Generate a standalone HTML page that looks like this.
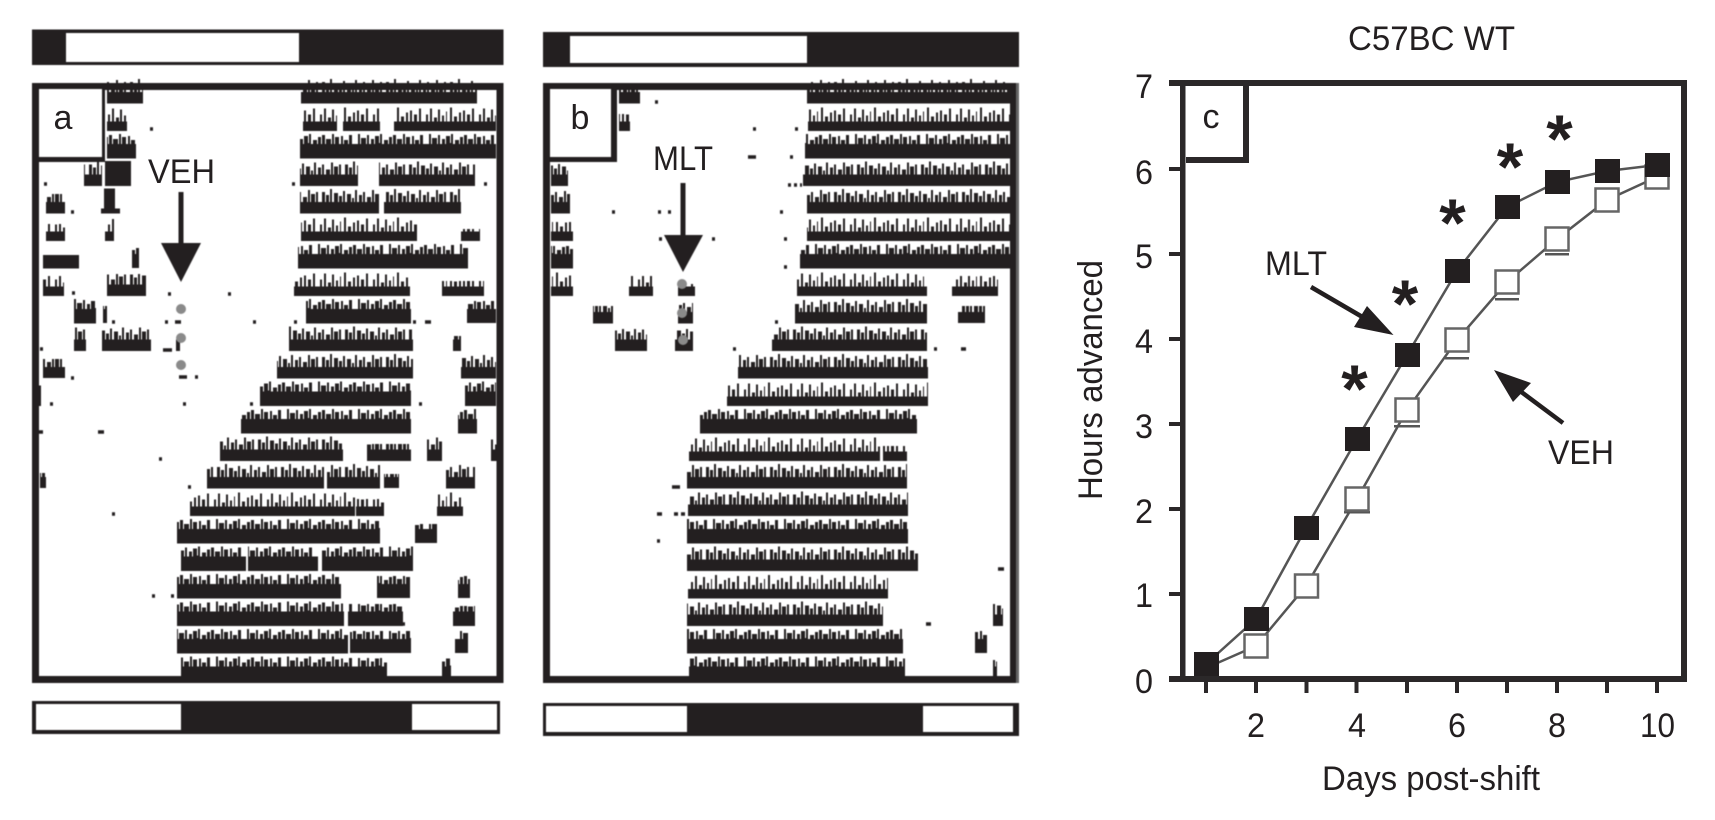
<!DOCTYPE html>
<html><head><meta charset="utf-8"><style>
html,body{margin:0;padding:0;background:#fff;width:1715px;height:820px;overflow:hidden}
svg{display:block}
text{font-family:"Liberation Sans",sans-serif;font-size:34px;fill:#231f20}
.m{text-anchor:middle}
.s{font-size:68px;font-weight:bold;text-anchor:middle}
</style></head><body>
<svg width="1715" height="820" viewBox="0 0 1715 820" xmlns="http://www.w3.org/2000/svg">
<defs>
<pattern id="p1" patternUnits="userSpaceOnUse" x="0" y="76" width="64" height="27.5"><rect y="16" width="64" height="11.5" fill="#231f20"/><path fill="#231f20" d="M0 27.500V22H2V6H5V20H6V9H9V22H10V3H12V18H14V7H18V22H19V10H22V19H23V5H25V21H27V8H31V17H32V12H34V22H35V4H37V19H39V9H42V21H43V6H45V16H47V11H51V20H52V4H54V22H55V8H59V18H60V6H62V21H64V27.500z"/></pattern>
<pattern id="p2" patternUnits="userSpaceOnUse" x="0" y="76" width="71" height="27.5"><rect y="13" width="71" height="14.5" fill="#231f20"/><path fill="#231f20" d="M0 27.500V14H3V3H5V16H6V7H11V19H12V4H14V15H16V8H19V20H20V5H24V12H25V3H27V17H29V9H33V21H34V6H37V13H38V4H41V18H42V8H47V15H48V3H50V19H51V6H55V14H57V5H59V20H60V9H64V16H65V4H68V13H71V27.500z"/></pattern>
<pattern id="p3" patternUnits="userSpaceOnUse" x="0" y="76" width="53" height="27.5"><rect y="18" width="53" height="9.5" fill="#231f20"/><path fill="#231f20" d="M0 27.500V23H2V11H4V21H6V5H8V23H10V14H13V20H14V6H16V22H18V12H20V23H22V8H23V19H26V4H28V23H30V13H33V21H35V9H37V23H39V7H41V20H43V11H46V23H48V5H50V21H53V27.500z"/></pattern>
<pattern id="p4" patternUnits="userSpaceOnUse" x="23" y="76" width="64" height="27.5"><rect y="16" width="64" height="11.5" fill="#231f20"/><path fill="#231f20" d="M0 27.500V22H2V6H5V20H6V9H9V22H10V3H12V18H14V7H18V22H19V10H22V19H23V5H25V21H27V8H31V17H32V12H34V22H35V4H37V19H39V9H42V21H43V6H45V16H47V11H51V20H52V4H54V22H55V8H59V18H60V6H62V21H64V27.500z"/></pattern>
<pattern id="p5" patternUnits="userSpaceOnUse" x="31" y="76" width="71" height="27.5"><rect y="13" width="71" height="14.5" fill="#231f20"/><path fill="#231f20" d="M0 27.500V14H3V3H5V16H6V7H11V19H12V4H14V15H16V8H19V20H20V5H24V12H25V3H27V17H29V9H33V21H34V6H37V13H38V4H41V18H42V8H47V15H48V3H50V19H51V6H55V14H57V5H59V20H60V9H64V16H65V4H68V13H71V27.500z"/></pattern>
</defs>

<!-- PANEL A -->
<g style="filter:blur(.5px)">
<rect x="32" y="29.500" width="471.500" height="35.500" fill="#231f20"/>
<rect x="66" y="33" width="233" height="29" fill="#fff"/>
<path fill="url(#p1)" d="M107 78.500h36v25h-36zM301 78.500h176v25h-176z"/>
<path fill="url(#p3)" d="M107 106h20v25h-20zM303 106h34v25h-34zM343 106h37v25h-37zM394 106h102v25h-102z"/>
<path fill="url(#p2)" d="M107 133.500h29v25h-29zM300 133.500h196v25h-196z"/>
<path fill="url(#p4)" d="M84 161h18v25h-18zM300 161h58v25h-58zM379 161h96v25h-96z"/>
<path fill="#231f20" d="M105 161h26v25h-26zM104 188.500h11v20h5v5h-19v-5h3z"/>
<path fill="url(#p1)" d="M46 194h19v19.500h-19zM300 188.500h79v25h-79zM384 188.500h77v25h-77z"/>
<path fill="url(#p3)" d="M46 224h19v17h-19zM105 219h9v22h-9zM301 216h116v25h-116zM461 229h19v12h-19z"/>
<path fill="url(#p5)" d="M43 255h36v13.500h-36zM132 248h7v20h-7zM298 243.500h170v25h-170z"/>
<path fill="url(#p3)" d="M43 276h21v20h-21zM294 271h116v25h-116zM442 281h42v15h-42z"/>
<path fill="url(#p1)" d="M107 274h39v22h-39z"/>
<path fill="url(#p2)" d="M74 298.500h22v25h-22zM103 306h4v17h-4zM306 298.500h105v25h-105zM467 301h29v22h-29z"/>
<path fill="url(#p4)" d="M74 326h12v25h-12zM102 326h49v25h-49zM289 326h124v25h-124zM453 336h8v15h-8zM176 338h4v13h-4z"/>
<path fill="url(#p1)" d="M43 359h22v19h-22zM277 353.500h136v25h-136zM461 353.500h35v25h-35z"/>
<path fill="url(#p5)" d="M34 381h7v25h-7zM260 381h151v25h-151zM465 381h31v25h-31z"/>
<path fill="url(#p2)" d="M241 408.500h170v25h-170zM458 408.500h19v25h-19z"/>
<path fill="url(#p1)" d="M220 436h123v25h-123zM367 444h44v17h-44zM427 436h15v25h-15zM491 436h12v25h-12z"/>
<path fill="url(#p4)" d="M207 463.500h117v25h-117zM327 463.500h53v25h-53zM384 474h15v14h-15zM446 463.500h29v25h-29zM40 473h6v15h-6z"/>
<path fill="url(#p3)" d="M190 491h165v25h-165zM356 499h28v17h-28zM437 491h26v25h-26z"/>
<path fill="url(#p2)" d="M177 518.500h203v25h-203zM415 524h22v19h-22z"/>
<path fill="url(#p5)" d="M181 546h65v25h-65zM248 546h70v25h-70zM322 546h91v25h-91z"/>
<path fill="url(#p2)" d="M177 573.500h164v25h-164zM377 576h33v22h-33zM458 576h12v22h-12z"/>
<path fill="url(#p2)" d="M177 601h167v25h-167zM348 604h55v22h-55zM453 606h22v20h-22z"/>
<path fill="url(#p5)" d="M177 628.500h171v25h-171zM350 631h61v22h-61zM455 631h13v22h-13z"/>
<path fill="url(#p2)" d="M181 656h158v25h-158zM339 658h48v23h-48zM442 658h9v23h-9z"/>
<path stroke="#231f20" stroke-width="3.500" d="M150 129h3M44 184h3M292 184h3M484 184h3M71 212h3M168 294h3M228 294h3M72 293h3M59 293h3M165 322h3M175 322h6M253 322h3M294 322h3M413 322h3M425 322h6M112 322h3M163 350h9M40 349h3M71 378h3M179 377h8M195 377h3M50 404h3M183 404h3M250 404h3M419 404h3M98 432h6M39 432h4M159 459h3M188 487h3M112 514h3M152 596h3M171 596h3M402 624h3M472 624h3"/>
<circle cx="181" cy="309" r="5" fill="#8a8a8a"/><circle cx="181" cy="338" r="5" fill="#8a8a8a"/><circle cx="181" cy="365" r="5" fill="#8a8a8a"/>
<rect x="35.500" y="86.500" width="464.500" height="593" fill="none" stroke="#231f20" stroke-width="7"/>
<rect x="39" y="89" width="66" height="73" fill="#fff"/>
<path fill="#231f20" d="M102 89h3v73h-3zM39 157h66v5h-66z"/>
<rect x="32" y="701" width="468" height="33" fill="#231f20"/>
<rect x="36" y="704" width="145" height="26" fill="#fff"/><rect x="412" y="704" width="85" height="26" fill="#fff"/>
<rect x="178.500" y="192" width="5" height="52" fill="#231f20"/>
<path d="M161 243H201L181 282z" fill="#231f20"/>
</g>
<text x="63" y="129" class="m">a</text>
<text x="148" y="183" textLength="67" lengthAdjust="spacingAndGlyphs">VEH</text>

<!-- PANEL B -->
<g style="filter:blur(.5px)">
<rect x="543" y="32" width="476" height="35" fill="#231f20"/>
<rect x="570" y="36" width="237" height="27" fill="#fff"/>
<path fill="url(#p1)" d="M619 88h21v15.500h-21zM807 78.500h203v25h-203z"/>
<path fill="url(#p3)" d="M619 114h11v17h-11zM808 106h202v25h-202z"/>
<path fill="url(#p2)" d="M805 133.500h205v25h-205z"/>
<path fill="url(#p4)" d="M551 164h17v22h-17zM803 161h207v25h-207z"/>
<path fill="url(#p1)" d="M551 191h19v22.500h-19zM807 188.500h203v25h-203z"/>
<path fill="url(#p3)" d="M551 222h22v19h-22zM807 216h203v25h-203z"/>
<path fill="url(#p5)" d="M551 246h22v22.500h-22zM800 243.500h210v25h-210z"/>
<path fill="url(#p3)" d="M551 271h22v25h-22zM629 276h24v20h-24zM678 284h17v12h-17zM797 271h130v25h-130zM952 276h46v20h-46z"/>
<path fill="url(#p1)" d="M593 306h20v17.500h-20zM678 303h15v20.500h-15zM795 298.500h132v25h-132zM958 306h27v17h-27z"/>
<path fill="url(#p4)" d="M615 329h32v22h-32zM675 329h18v22h-18zM772 326h155v25h-155z"/>
<path fill="url(#p1)" d="M738 353.500h190v25h-190z"/>
<path fill="url(#p3)" d="M727 381h201v25h-201z"/>
<path fill="url(#p5)" d="M700 408.500h217v25h-217z"/>
<path fill="url(#p3)" d="M689 436h191v25h-191zM883 446h24v15h-24z"/>
<path fill="url(#p1)" d="M687 463.500h220v25h-220z"/>
<path fill="url(#p4)" d="M688 491h220v25h-220z"/>
<path fill="url(#p2)" d="M687 518.500h221v25h-221z"/>
<path fill="url(#p1)" d="M687 546h231v25h-231z"/>
<path fill="url(#p3)" d="M688 573.500h200v25h-200z"/>
<path fill="url(#p4)" d="M687 601h196v25h-196zM993 604h10v22h-10z"/>
<path fill="url(#p2)" d="M687 628.500h216v25h-216zM975 631h12v22h-12z"/>
<path fill="url(#p5)" d="M689 656h216v25h-216zM993 660h4v21h-4z"/>
<path stroke="#231f20" stroke-width="3.500" d="M655 102h3M753 129h3M795 129h3M748 157h8M790 157h3M788 185h3M794 185h3M800 185h2M612 212h3M658 212h3M668 212h3M780 212h3M659 239h3M712 239h3M784 239h3M784 267h3M775 322h3M733 349h3M934 349h3M961 349h5M702 481h3M672 487h8M657 514h5M674 514h4M681 514h4M657 541h3M998 569h6M926 624h5"/>
<circle cx="682" cy="284" r="5" fill="#8a8a8a"/><circle cx="682" cy="313" r="5" fill="#8a8a8a"/><circle cx="683" cy="340" r="5" fill="#8a8a8a"/>
<rect x="546.500" y="86.500" width="467" height="593" fill="none" stroke="#231f20" stroke-width="7"/>
<rect x="1010" y="83" width="6" height="600" fill="#231f20"/><rect x="1016" y="83" width="3" height="600" fill="#666"/>
<rect x="550" y="89" width="67" height="73" fill="#fff"/>
<path fill="#231f20" d="M611 89h6v73h-6zM550 157h67v5h-67z"/>
<rect x="543" y="703" width="476" height="33" fill="#231f20"/>
<rect x="546" y="706" width="141" height="26" fill="#fff"/><rect x="923" y="706" width="90" height="26" fill="#fff"/>
<rect x="680.500" y="183" width="5" height="53" fill="#231f20"/>
<path d="M664 235H703L683 272z" fill="#231f20"/>
</g>
<text x="580" y="129" class="m">b</text>
<text x="653" y="170" textLength="60" lengthAdjust="spacingAndGlyphs">MLT</text>

<!-- PANEL C -->
<text x="1348" y="50" textLength="167" lengthAdjust="spacingAndGlyphs">C57BC WT</text>
<g fill="#2b2829">
<rect x="1169" y="80" width="518" height="6"/>
<rect x="1180" y="80" width="5.500" height="602"/>
<rect x="1681" y="80" width="6" height="602"/>
<rect x="1169" y="676" width="518" height="6"/>
<rect x="1169" y="167" width="11" height="4"/><rect x="1169" y="252" width="11" height="4"/><rect x="1169" y="337" width="11" height="4"/><rect x="1169" y="422" width="11" height="4"/><rect x="1169" y="507" width="11" height="4"/><rect x="1169" y="592" width="11" height="4"/>
<rect x="1204" y="682" width="4" height="11"/><rect x="1254" y="682" width="4" height="11"/><rect x="1304.500" y="682" width="4" height="11"/><rect x="1354.500" y="682" width="4" height="11"/><rect x="1405" y="682" width="4" height="11"/><rect x="1455" y="682" width="4" height="11"/><rect x="1505" y="682" width="4" height="11"/><rect x="1555" y="682" width="4" height="11"/><rect x="1605" y="682" width="4" height="11"/><rect x="1655" y="682" width="4" height="11"/>
<rect x="1186" y="157" width="63" height="6"/><rect x="1243" y="86" width="6" height="77"/>
</g>
<text x="1211" y="128" class="m">c</text>
<text x="1135" y="98" textLength="18" lengthAdjust="spacingAndGlyphs">7</text><text x="1135" y="184" textLength="18" lengthAdjust="spacingAndGlyphs">6</text><text x="1135" y="268" textLength="18" lengthAdjust="spacingAndGlyphs">5</text><text x="1135" y="353" textLength="18" lengthAdjust="spacingAndGlyphs">4</text><text x="1135" y="438" textLength="18" lengthAdjust="spacingAndGlyphs">3</text><text x="1135" y="523" textLength="18" lengthAdjust="spacingAndGlyphs">2</text><text x="1135" y="607" textLength="18" lengthAdjust="spacingAndGlyphs">1</text><text x="1135" y="693" textLength="18" lengthAdjust="spacingAndGlyphs">0</text>
<text x="1247" y="737" textLength="18" lengthAdjust="spacingAndGlyphs">2</text><text x="1348" y="737" textLength="18" lengthAdjust="spacingAndGlyphs">4</text><text x="1448" y="737" textLength="18" lengthAdjust="spacingAndGlyphs">6</text><text x="1548" y="737" textLength="18" lengthAdjust="spacingAndGlyphs">8</text><text x="1640" y="737" textLength="35" lengthAdjust="spacingAndGlyphs">10</text>
<text x="1322" y="790" textLength="218" lengthAdjust="spacingAndGlyphs">Days post-shift</text>
<text transform="translate(1102,500) rotate(-90)" textLength="240" lengthAdjust="spacingAndGlyphs">Hours advanced</text>
<text x="1265" y="275" textLength="62" lengthAdjust="spacingAndGlyphs">MLT</text>
<text x="1548" y="464" textLength="66" lengthAdjust="spacingAndGlyphs">VEH</text>

<polyline fill="none" stroke="#555" stroke-width="2.500" points="1206,668 1256,646 1306,586 1357,499 1407,410 1457,340 1507,282 1557,239 1607,200 1657,177"/>
<path fill="#555" d="M1344 511h26v2.500h-26zM1394 425h26v2.500h-26zM1445 357h24v2.500h-24zM1495 298h24v2.500h-24zM1545 253h24v2.500h-24z"/>
<g fill="#fff" stroke="#666" stroke-width="2.500">
<rect x="1244.500" y="634.500" width="23" height="23"/><rect x="1295" y="574.500" width="23" height="23"/><rect x="1345.500" y="487.500" width="23" height="23"/><rect x="1395.500" y="398.500" width="23" height="23"/><rect x="1445.500" y="328.500" width="23" height="23"/><rect x="1495.500" y="270.500" width="23" height="23"/><rect x="1545.500" y="227.500" width="23" height="23"/><rect x="1595.500" y="188.500" width="23" height="23"/><rect x="1645.500" y="165.500" width="23" height="23"/>
</g>
<polyline fill="none" stroke="#555" stroke-width="2.500" points="1206,664 1256,619 1306,528 1357,439 1407,355 1457,271 1507,207 1557,182 1607,171 1657,165"/>
<g fill="#231f20">
<rect x="1194" y="652" width="25" height="24"/><rect x="1244" y="607" width="25" height="24"/><rect x="1294" y="516" width="25" height="24"/><rect x="1345" y="427" width="25" height="24"/><rect x="1395" y="343" width="25" height="24"/><rect x="1445" y="259" width="25" height="24"/><rect x="1495" y="195" width="25" height="24"/><rect x="1545" y="170" width="25" height="24"/><rect x="1595" y="159" width="25" height="24"/><rect x="1645" y="153" width="25" height="24"/>
</g>
<text x="1354.500" y="412" class="s">*</text>
<text x="1405" y="327" class="s">*</text>
<text x="1452.500" y="246" class="s">*</text>
<text x="1510" y="190" class="s">*</text>
<text x="1559.500" y="162" class="s">*</text>
<g fill="#231f20" stroke="#231f20">
<line x1="1311" y1="287" x2="1365" y2="318.500" stroke-width="4.500"/>
<path stroke="none" d="M1393.500 335L1367 306L1354 327z"/>
<line x1="1563" y1="423" x2="1520" y2="391" stroke-width="4.500"/>
<path stroke="none" d="M1494 370L1531 383L1513 402z"/>
</g>
</svg>
</body></html>
